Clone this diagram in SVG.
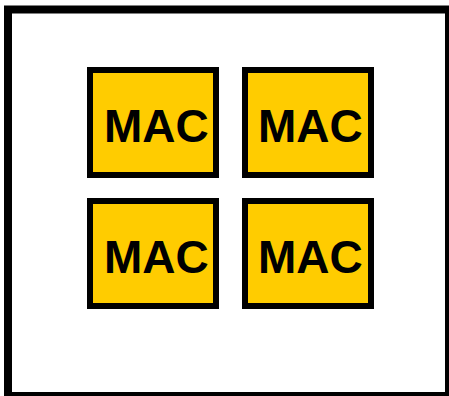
<svg xmlns="http://www.w3.org/2000/svg" width="449" height="396" viewBox="0 0 449 396">
<style>
.mac{fill:#FFCC00;stroke:#000;stroke-width:6}
.lbl{font-family:"Liberation Sans",Arial,sans-serif;font-weight:bold;font-size:46px;fill:#000}
</style>
<rect x="0" y="0" width="449" height="396" fill="#fff"/>
<g id="frame"><rect x="8" y="9.5" width="441" height="386.5" fill="#fff" stroke="#000" stroke-width="8"/></g>
<g id="mac1"><rect class="mac" x="90" y="70" width="126" height="105"/><text class="lbl" x="104" y="142">MAC</text></g>
<g id="mac2"><rect class="mac" x="245" y="70" width="126" height="105"/><text class="lbl" x="258" y="142">MAC</text></g>
<g id="mac3"><rect class="mac" x="90" y="201" width="126" height="105"/><text class="lbl" x="104" y="273">MAC</text></g>
<g id="mac4"><rect class="mac" x="245" y="201" width="126" height="105"/><text class="lbl" x="258" y="273">MAC</text></g>
<g id="connectors"></g>
</svg>
